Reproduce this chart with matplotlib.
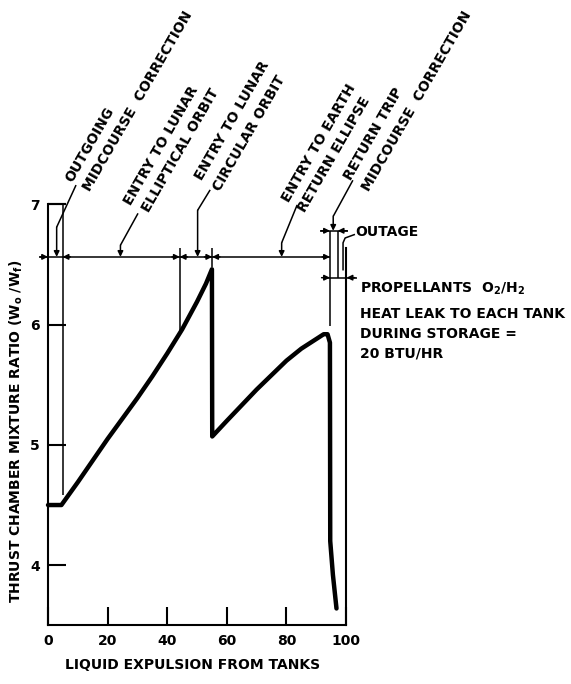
import matplotlib
matplotlib.use('Agg')
import matplotlib.pyplot as plt

# curve: thrust chamber mixture ratio vs liquid expulsion
curve_x = [0, 4.5, 10, 15, 20, 25, 30, 35, 40, 45, 50, 53, 55, 55.1,
           60, 65, 70, 75, 80, 85, 90, 92.5, 93.8, 94.6, 94.7, 95.6, 96.8]
curve_y = [4.5, 4.5, 4.69, 4.87, 5.05, 5.22, 5.39, 5.57, 5.76, 5.96, 6.19, 6.34, 6.46, 5.07,
           5.20, 5.33, 5.46, 5.58, 5.70, 5.80, 5.88, 5.92, 5.92, 5.85, 4.2, 3.92, 3.64]

x_ticks = [0, 20, 40, 60, 80, 100]
x_ticklabels = ["0", "20", "40", "60", "80", "100"]
y_ticks = [4, 5, 6, 7]

# mission phase boundaries on the dimension line
phase_bounds = [0, 4.9, 44.2, 55.1, 94.6]
phase_labels = [
    ("OUTGOING", "MIDCOURSE  CORRECTION"),
    ("ENTRY TO LUNAR", "ELLIPTICAL ORBIT"),
    ("ENTRY TO LUNAR", "CIRCULAR ORBIT"),
    ("ENTRY TO EARTH", "RETURN ELLIPSE"),
    ("RETURN TRIP", "MIDCOURSE  CORRECTION"),
]
notes = ["HEAT LEAK TO EACH TANK", "DURING STORAGE =", "20 BTU/HR"]

fig = plt.figure(figsize=(5.71, 6.84), dpi=100)
ax = fig.add_axes([0.0841, 0.0858, 0.5219, 0.6155])

FONT = dict(family='DejaVu Sans', fontweight='bold', fontsize=10)
lw_thin = 1.1

ax.plot(curve_x, curve_y, color='black', lw=3.2, solid_capstyle='round', clip_on=False, zorder=5)

ax.set_xlim(0, 100)
ax.set_ylim(3.5, 7)
ax.set_xticks(x_ticks)
ax.set_xticklabels(x_ticklabels, **FONT)
ax.set_yticks(y_ticks)
ax.set_yticklabels([str(v) for v in y_ticks], **FONT)
ax.tick_params(direction='in', length=13, width=1.5, pad=6)
ax.spines['top'].set_visible(False)
ax.spines['right'].set_bounds(3.5, 6.64)
for s in ['left', 'bottom', 'right']:
    ax.spines[s].set_linewidth(1.5)

def line(xs, ys, lw=lw_thin):
    ax.plot(xs, ys, color='black', lw=lw, clip_on=False, solid_capstyle='butt')

def arrow(x0, y0, x1, y1):
    ax.annotate('', xy=(x1, y1), xytext=(x0, y0), annotation_clip=False,
                arrowprops=dict(arrowstyle='-|>', color='black', lw=lw_thin,
                                mutation_scale=8, shrinkA=0, shrinkB=0))

# extension lines
line([4.9, 4.9], [7.01, 4.58])
line([0, 5.9], [7.0, 7.0], lw=1.5)
line([44.2, 44.2], [6.64, 5.95])
line([55.1, 55.1], [6.64, 6.48])
line([94.6, 94.6], [6.78, 5.99])
line([97.2, 97.2], [6.78, 6.39])

# main dimension line
ym = 6.563
line([-3.0, 94.6], [ym, ym])
for xb in [0, 44.2, 55.1, 94.6]:
    arrow(xb - 2.6, ym, xb, ym)
for xb in [4.9, 44.2, 55.1]:
    arrow(xb + 2.6, ym, xb, ym)

# outage and propellant brackets
line([91.3, 100.7], [6.78, 6.78])
arrow(91.6, 6.78, 94.6, 6.78)
arrow(100.4, 6.78, 97.2, 6.78)
line([93.5, 103.6], [6.39, 6.39])
arrow(91.8, 6.39, 94.6, 6.39)
arrow(103.0, 6.39, 100.2, 6.39)

# leaders from rotated labels
leaders = [
    ([9.4, 2.9, 2.9], [7.16, 6.81, ym]),
    ([30.2, 24.3, 24.3], [6.925, 6.66, ym]),
    ([54.4, 50.2, 50.2], [7.12, 6.95, ym]),
    ([83.6, 78.4, 78.4], [6.995, 6.68, ym]),
    ([102.3, 95.7, 95.7], [7.20, 6.90, 6.78]),
]
for xs, ys in leaders:
    line(xs[:2], ys[:2])
    arrow(xs[1], ys[1], xs[2], ys[2])

text_pos = [
    ((8.2, 7.18), (14.1, 7.10)),
    ((27.8, 6.99), (33.9, 6.925)),
    ((51.6, 7.19), (57.7, 7.105)),
    ((80.9, 7.01), (86.4, 6.925)),
    ((101.7, 7.19), (107.8, 7.105)),
]
for (l1, l2), (p1, p2) in zip(phase_labels, text_pos):
    for txt, p in [(l1, p1), (l2, p2)]:
        ax.text(p[0], p[1], txt, rotation=60, rotation_mode='anchor',
                ha='left', va='baseline', clip_on=False, **FONT)

# outage label
line([103.0, 99.7, 99.0, 99.0], [6.75, 6.72, 6.68, 6.45])
ax.text(103.2, 6.77, "OUTAGE", ha='left', va='center', clip_on=False, **FONT)

ax.text(104.8, 6.30, r"PROPELLANTS  O$_\mathbf{2}$/H$_\mathbf{2}$",
        ha='left', va='center', clip_on=False, **FONT)
for txt, yy in zip(notes, [6.09, 5.92, 5.76]):
    ax.text(104.8, yy, txt, ha='left', va='center', clip_on=False, **FONT)

fig.text(193 / 571, 1 - 665 / 684, "LIQUID EXPULSION FROM TANKS",
         ha='center', va='center', **FONT)
fig.text(16 / 571, 1 - 431 / 684,
         r"THRUST CHAMBER MIXTURE RATIO (W$_\mathbf{o}$ /W$_\mathbf{f}$)",
         ha='center', va='center', rotation=90, **FONT)

fig.savefig('out.png', dpi=100)
